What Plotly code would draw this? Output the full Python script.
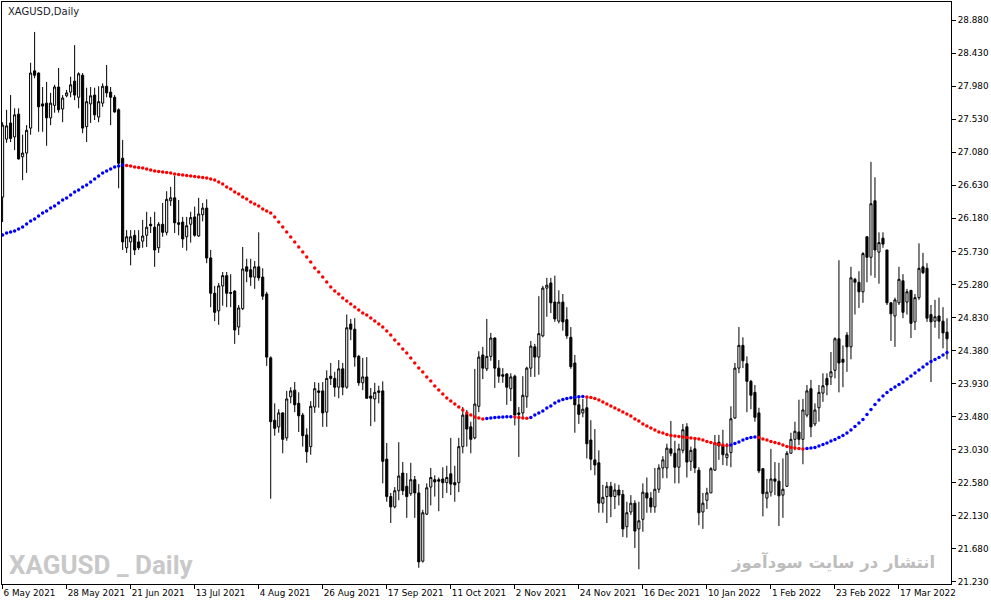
import plotly.graph_objects as go

# XAGUSD daily bars, 6 May 2021 onwards (one bar per trading day)
open_ = [
    26.47, 27.26, 27.48, 27.29, 27.60, 27.02, 27.07, 27.41, 28.19, 28.16,
    27.74, 27.75, 27.55, 27.72, 27.97, 27.67, 27.85, 27.90, 28.05, 27.83,
    28.13, 27.43, 27.74, 27.86, 27.56, 27.75, 27.98, 27.90, 27.83, 27.66,
    27.00, 25.78, 25.86, 25.95, 25.86, 25.87, 25.95, 26.10, 26.06, 25.78,
    26.10, 25.99, 26.42, 26.46, 26.12, 26.13, 25.93, 26.10, 26.20, 25.94,
    26.23, 26.32, 25.64, 25.16, 24.92, 25.26, 25.40, 25.17, 25.19, 24.70,
    24.95, 25.52, 25.48, 25.38, 25.52, 25.38, 25.15, 24.28, 23.43, 23.34,
    23.53, 23.19, 23.75, 23.84, 23.66, 23.50, 23.23, 23.07, 23.61, 23.83,
    23.83, 23.54, 24.03, 24.00, 23.88, 24.13, 23.88, 24.74, 24.67, 24.30,
    23.94, 24.02, 23.76, 23.72, 23.83, 23.83, 22.90, 22.39, 22.25, 22.47,
    22.71, 22.53, 22.43, 22.62, 22.44, 21.51, 22.15, 22.52, 22.62, 22.62,
    22.63, 22.58, 22.70, 22.58, 22.58, 23.07, 23.51, 23.34, 23.19, 23.62,
    24.32, 24.13, 24.30, 24.55, 24.14, 24.05, 24.06, 23.86, 24.03, 23.53,
    23.53, 23.75, 24.14, 24.43, 24.29, 24.58, 25.23, 25.30, 25.04, 24.78,
    25.04, 24.80, 24.56, 24.21, 23.64, 23.53, 23.60, 23.16, 22.89, 22.85,
    22.30, 22.39, 22.53, 22.39, 22.48, 22.42, 21.98, 22.18, 22.30, 21.95,
    22.08, 22.44, 22.37, 22.25, 22.49, 22.78, 22.78, 23.04, 22.98, 22.79,
    23.02, 23.34, 22.87, 23.04, 22.75, 22.18, 22.34, 22.44, 22.75, 23.13,
    23.09, 22.92, 22.99, 23.46, 24.14, 24.45, 24.20, 23.96, 23.81, 23.53,
    22.77, 22.37, 22.45, 22.63, 22.60, 22.41, 22.53, 22.98, 23.17, 23.27,
    23.17, 23.50, 23.86, 23.38, 23.60, 23.80, 24.00, 24.02, 24.11, 24.54,
    24.26, 24.59, 24.43, 25.35, 25.31, 25.18, 25.93, 25.65, 26.42, 25.72,
    25.91, 25.75, 25.03, 24.85, 25.03, 25.33, 25.04, 25.20, 24.77, 25.10,
    25.52, 25.50, 24.87, 24.78, 24.85, 24.78, 24.63,
]
high = [
    27.49, 27.66, 27.86, 27.68, 27.68, 27.32, 27.45, 28.30, 28.72, 28.17,
    27.97, 28.04, 27.89, 28.00, 28.23, 27.86, 27.93, 28.11, 28.54, 28.17,
    28.16, 27.96, 27.97, 27.96, 27.98, 28.02, 28.27, 27.97, 27.86, 27.68,
    27.25, 26.02, 26.02, 26.02, 26.02, 26.16, 26.27, 26.20, 26.27, 26.13,
    26.39, 26.55, 26.61, 26.76, 26.43, 26.20, 26.20, 26.27, 26.34, 26.46,
    26.39, 26.44, 25.75, 25.26, 25.30, 25.45, 25.45, 25.42, 25.20, 25.00,
    25.79, 25.63, 25.63, 25.60, 25.99, 25.50, 25.18, 24.30, 23.66, 23.58,
    23.54, 23.83, 23.88, 23.95, 23.81, 23.53, 23.32, 23.69, 23.95, 23.94,
    23.95, 24.11, 24.21, 24.09, 24.25, 24.21, 24.87, 24.81, 24.82, 24.32,
    24.28, 24.29, 23.87, 23.94, 23.90, 23.96, 23.12, 22.44, 22.52, 23.13,
    22.86, 22.71, 22.85, 22.67, 22.56, 22.21, 22.57, 22.78, 22.68, 22.65,
    22.79, 22.81, 23.19, 22.81, 23.19, 23.61, 23.57, 23.41, 24.13, 24.37,
    24.43, 24.81, 24.62, 24.56, 24.25, 24.14, 24.07, 24.07, 24.05, 23.61,
    24.03, 24.16, 24.51, 24.47, 25.12, 25.26, 25.37, 25.37, 25.40, 25.20,
    25.15, 24.97, 24.70, 24.32, 23.73, 23.72, 23.73, 23.43, 23.31, 23.02,
    22.55, 22.59, 22.59, 22.57, 22.55, 22.48, 22.32, 22.41, 22.34, 22.32,
    22.57, 22.65, 22.45, 22.78, 22.83, 22.94, 23.11, 23.42, 23.15, 23.11,
    23.38, 23.39, 23.07, 23.19, 22.79, 22.44, 22.51, 22.79, 23.23, 23.23,
    23.30, 23.12, 23.62, 24.21, 24.70, 24.56, 24.30, 23.98, 23.91, 23.60,
    22.78, 22.63, 23.04, 22.86, 22.85, 22.91, 23.01, 23.26, 23.41, 23.71,
    23.72, 23.91, 23.98, 23.66, 23.91, 24.07, 24.07, 24.36, 24.56, 25.61,
    24.45, 24.63, 25.52, 25.37, 25.46, 25.72, 25.93, 26.95, 26.74, 25.99,
    25.99, 25.75, 25.04, 25.10, 25.52, 25.42, 25.22, 25.20, 25.15, 25.84,
    25.71, 25.57, 25.00, 25.07, 25.10, 24.97, 24.82,
]
low = [
    26.13, 27.21, 27.22, 27.11, 26.98, 26.70, 26.80, 27.32, 28.09, 27.36,
    27.36, 27.17, 27.45, 27.62, 27.62, 27.49, 27.83, 27.83, 27.79, 27.68,
    27.34, 27.22, 27.48, 27.52, 27.49, 27.70, 27.83, 27.45, 27.62, 26.59,
    25.75, 25.71, 25.54, 25.68, 25.75, 25.78, 25.79, 25.98, 25.52, 25.71,
    25.93, 25.95, 26.35, 25.98, 25.95, 25.78, 25.74, 25.85, 25.93, 25.93,
    26.14, 25.57, 24.97, 24.78, 24.73, 24.99, 24.97, 24.97, 24.47, 24.59,
    24.93, 25.31, 25.26, 25.22, 25.33, 25.07, 24.17, 22.36, 23.22, 23.26,
    22.98, 23.15, 23.66, 23.54, 23.27, 23.07, 22.85, 22.96, 23.53, 23.60,
    23.34, 23.34, 23.91, 23.75, 23.73, 23.77, 23.86, 24.52, 24.16, 23.90,
    23.84, 23.72, 23.35, 23.41, 23.66, 22.57, 22.32, 22.03, 22.23, 22.34,
    22.41, 22.10, 22.40, 22.10, 21.42, 21.49, 22.14, 22.27, 22.39, 22.19,
    22.37, 22.44, 22.41, 22.32, 22.45, 22.98, 23.07, 22.98, 23.17, 23.54,
    23.99, 24.10, 24.24, 23.87, 23.94, 23.94, 23.64, 23.69, 23.36, 22.93,
    23.45, 23.60, 24.02, 24.02, 24.05, 24.56, 24.84, 24.89, 24.77, 24.75,
    24.65, 24.54, 24.13, 23.26, 23.38, 23.47, 22.91, 22.75, 22.68, 22.17,
    22.17, 22.03, 22.11, 22.22, 22.27, 21.84, 21.83, 22.14, 21.69, 21.40,
    21.91, 22.17, 22.17, 22.17, 22.44, 22.64, 22.64, 22.94, 22.57, 22.57,
    22.98, 22.65, 22.74, 22.71, 22.00, 21.95, 22.22, 22.44, 22.74, 22.89,
    22.82, 22.81, 22.79, 23.45, 24.07, 24.14, 23.54, 23.58, 23.41, 22.71,
    22.12, 22.23, 22.39, 22.41, 21.99, 22.10, 22.52, 22.98, 23.02, 23.09,
    22.83, 23.47, 23.20, 23.35, 23.41, 23.68, 23.77, 23.91, 24.00, 23.81,
    23.88, 24.09, 24.26, 24.87, 24.96, 25.03, 25.31, 25.40, 25.37, 25.29,
    25.78, 25.00, 24.51, 24.43, 25.00, 24.82, 24.87, 24.55, 24.66, 25.07,
    25.42, 24.77, 23.95, 24.69, 24.54, 24.41, 24.26,
]
close = [
    27.45, 27.44, 27.27, 27.59, 26.99, 27.07, 27.38, 28.16, 28.13, 27.70,
    27.71, 27.55, 27.75, 27.97, 27.66, 27.82, 27.89, 28.00, 27.86, 28.15,
    27.41, 27.77, 27.85, 27.59, 27.77, 27.98, 27.89, 27.83, 27.63, 26.93,
    25.86, 25.93, 25.93, 25.75, 25.78, 25.94, 26.06, 26.08, 25.75, 26.10,
    25.99, 26.44, 26.46, 26.12, 26.10, 25.90, 26.08, 26.19, 25.95, 26.24,
    26.32, 25.64, 25.16, 24.90, 25.26, 25.40, 25.16, 25.16, 24.66, 24.96,
    25.49, 25.46, 25.38, 25.52, 25.37, 25.12, 24.29, 23.41, 23.32, 23.53,
    23.17, 23.72, 23.83, 23.64, 23.49, 23.22, 23.00, 23.62, 23.86, 23.81,
    23.53, 24.00, 24.00, 23.88, 24.13, 23.88, 24.69, 24.67, 24.29, 23.94,
    24.02, 23.73, 23.73, 23.81, 23.81, 22.87, 22.39, 22.25, 22.47, 22.67,
    22.47, 22.39, 22.62, 22.44, 21.50, 22.17, 22.51, 22.65, 22.59, 22.60,
    22.58, 22.65, 22.56, 22.55, 23.07, 23.50, 23.31, 23.17, 23.65, 24.29,
    24.14, 24.30, 24.55, 24.14, 24.03, 24.03, 23.88, 24.02, 23.50, 23.51,
    23.77, 24.14, 24.44, 24.29, 24.61, 25.23, 25.27, 25.03, 24.81, 25.04,
    24.77, 24.58, 24.16, 23.64, 23.51, 23.58, 23.11, 22.90, 22.82, 22.30,
    22.38, 22.53, 22.39, 22.48, 22.41, 21.95, 22.17, 22.30, 21.92, 22.06,
    22.45, 22.37, 22.25, 22.49, 22.78, 22.89, 23.05, 22.98, 22.79, 23.04,
    23.30, 22.86, 23.02, 22.78, 22.17, 22.30, 22.44, 22.77, 23.12, 23.08,
    22.96, 22.97, 23.45, 24.14, 24.45, 24.24, 23.96, 23.77, 23.47, 22.74,
    22.43, 22.45, 22.63, 22.60, 22.40, 22.49, 22.98, 23.17, 23.28, 23.17,
    23.57, 23.83, 23.34, 23.57, 23.81, 23.90, 23.91, 24.09, 24.54, 24.21,
    24.22, 24.43, 25.37, 25.31, 25.18, 25.70, 25.65, 26.38, 25.75, 25.85,
    25.83, 25.03, 24.88, 25.07, 25.35, 24.90, 25.18, 24.75, 25.10, 25.50,
    25.44, 24.82, 24.77, 24.84, 24.78, 24.62, 24.54,
]

# trend line drawn as dots (one per bar)
ma = [
    25.953, 25.981, 25.994, 26.008, 26.035, 26.062, 26.103, 26.144, 26.171, 26.212,
    26.253, 26.280, 26.321, 26.348, 26.389, 26.430, 26.457, 26.498, 26.539, 26.566,
    26.607, 26.635, 26.675, 26.716, 26.757, 26.798, 26.825, 26.853, 26.880, 26.893,
    26.907, 26.900, 26.893, 26.880, 26.873, 26.866, 26.853, 26.839, 26.825, 26.818,
    26.812, 26.805, 26.798, 26.784, 26.778, 26.771, 26.764, 26.757, 26.750, 26.744,
    26.737, 26.730, 26.716, 26.703, 26.675, 26.648, 26.607, 26.580, 26.539, 26.512,
    26.471, 26.444, 26.403, 26.376, 26.348, 26.308, 26.280, 26.253, 26.199, 26.130,
    26.062, 25.994, 25.926, 25.858, 25.790, 25.722, 25.654, 25.585, 25.504, 25.449,
    25.381, 25.313, 25.245, 25.190, 25.150, 25.095, 25.054, 25.013, 24.972, 24.932,
    24.891, 24.863, 24.823, 24.782, 24.741, 24.700, 24.646, 24.591, 24.523, 24.468,
    24.400, 24.346, 24.278, 24.210, 24.141, 24.087, 24.019, 23.964, 23.896, 23.842,
    23.787, 23.733, 23.692, 23.651, 23.610, 23.569, 23.528, 23.501, 23.474, 23.460,
    23.447, 23.453, 23.460, 23.467, 23.471, 23.474, 23.477, 23.479, 23.474, 23.467,
    23.460, 23.456, 23.467, 23.501, 23.528, 23.556, 23.596, 23.624, 23.665, 23.692,
    23.712, 23.726, 23.735, 23.744, 23.749, 23.753, 23.746, 23.740, 23.726, 23.705,
    23.678, 23.651, 23.624, 23.596, 23.569, 23.542, 23.515, 23.487, 23.447, 23.419,
    23.378, 23.351, 23.324, 23.297, 23.269, 23.256, 23.235, 23.222, 23.215, 23.208,
    23.201, 23.194, 23.188, 23.181, 23.174, 23.160, 23.140, 23.126, 23.113, 23.099,
    23.092, 23.086, 23.092, 23.113, 23.133, 23.160, 23.181, 23.194, 23.201, 23.194,
    23.174, 23.160, 23.140, 23.126, 23.113, 23.092, 23.072, 23.058, 23.051, 23.045,
    23.038, 23.045, 23.051, 23.058, 23.079, 23.099, 23.120, 23.147, 23.167, 23.194,
    23.222, 23.256, 23.297, 23.344, 23.392, 23.440, 23.508, 23.576, 23.644, 23.705,
    23.760, 23.808, 23.848, 23.883, 23.917, 23.951, 23.992, 24.032, 24.073, 24.114,
    24.155, 24.196, 24.230, 24.257, 24.284, 24.318, 24.353,
]

# date labels, every 16th bar
date_labels = ['6 May 2021', '28 May 2021', '21 Jun 2021', '13 Jul 2021', '4 Aug 2021',
               '26 Aug 2021', '17 Sep 2021', '11 Oct 2021', '2 Nov 2021', '24 Nov 2021',
               '16 Dec 2021', '10 Jan 2022', '1 Feb 2022', '23 Feb 2022', '17 Mar 2022']
price_ticks = [21.23, 21.68, 22.13, 22.58, 23.03, 23.48, 23.93, 24.38, 24.83,
               25.28, 25.73, 26.18, 26.63, 27.08, 27.53, 27.98, 28.43, 28.88]

bars = list(range(len(close)))

# blue while the line rises, red while it falls
ma_colors = ['#0000ff']
for i in range(1, len(ma)):
    ma_colors.append('#0000ff' if ma[i] >= ma[i - 1] else '#ff0000')

fig = go.Figure()

fig.add_trace(go.Candlestick(
    x=bars, open=open_, high=high, low=low, close=close,
    increasing={'line': {'color': 'black', 'width': 1}, 'fillcolor': 'white'},
    decreasing={'line': {'color': 'black', 'width': 1}, 'fillcolor': 'black'},
    whiskerwidth=0,
    showlegend=False,
))

fig.add_trace(go.Scatter(
    x=bars, y=ma, mode='markers',
    marker={'color': ma_colors, 'size': 3.5, 'line': {'width': 0}},
    showlegend=False,
))

axis_font = {'family': 'DejaVu Sans', 'size': 8.8, 'color': 'black'}

fig.update_layout(
    width=991, height=605,
    paper_bgcolor='white', plot_bgcolor='white',
    margin={'l': 2, 'r': 40, 't': 2, 'b': 21},
    boxgap=0.25,
    xaxis={
        'range': [-0.15, 237],
        'tickvals': [i * 16 for i in range(len(date_labels))],
        'ticktext': date_labels,
        'ticks': 'outside', 'ticklen': 4, 'tickcolor': 'black',
        'ticklabelposition': 'outside right',
        'tickangle': 0,
        'automargin': False,
        'tickfont': axis_font,
        'showgrid': False, 'zeroline': False,
        'showline': True, 'linecolor': 'black', 'linewidth': 1, 'mirror': True,
        'rangeslider': {'visible': False},
    },
    yaxis={
        'side': 'right',
        'range': [21.199, 29.128],
        'tickvals': price_ticks,
        'tickformat': '.3f',
        'ticks': 'outside', 'ticklen': 4, 'tickcolor': 'black',
        'automargin': False,
        'tickfont': axis_font,
        'showgrid': False, 'zeroline': False,
        'showline': True, 'linecolor': 'black', 'linewidth': 1, 'mirror': True,
    },
    annotations=[
        {'text': 'XAGUSD,Daily', 'xref': 'paper', 'yref': 'paper', 'x': 0, 'y': 1,
         'xanchor': 'left', 'yanchor': 'top', 'xshift': 4, 'yshift': -2,
         'showarrow': False, 'font': {'family': 'DejaVu Sans', 'size': 10, 'color': '#1a1a2a'}},
        {'text': 'XAGUSD _ Daily', 'xref': 'paper', 'yref': 'paper', 'x': 0, 'y': 0,
         'xanchor': 'left', 'yanchor': 'bottom', 'xshift': 5, 'yshift': 2,
         'showarrow': False,
         'font': {'family': 'Roboto', 'weight': 'bold', 'size': 26, 'color': '#c8c8c8'}},
        {'text': '<b>انتشار در سایت سودآموز</b>', 'xref': 'paper', 'yref': 'paper', 'x': 1, 'y': 0,
         'xanchor': 'right', 'yanchor': 'bottom', 'xshift': -14, 'yshift': 9,
         'showarrow': False,
         'font': {'family': 'DejaVu Sans', 'size': 16.5, 'color': '#bdbdbd'}},
    ],
)

# the page body has a default 8px margin; drop it so the figure fills the window
fig.write_html('out.html', config={'displayModeBar': False},
               post_script="document.body.style.margin='0';document.body.style.overflow='hidden';")
